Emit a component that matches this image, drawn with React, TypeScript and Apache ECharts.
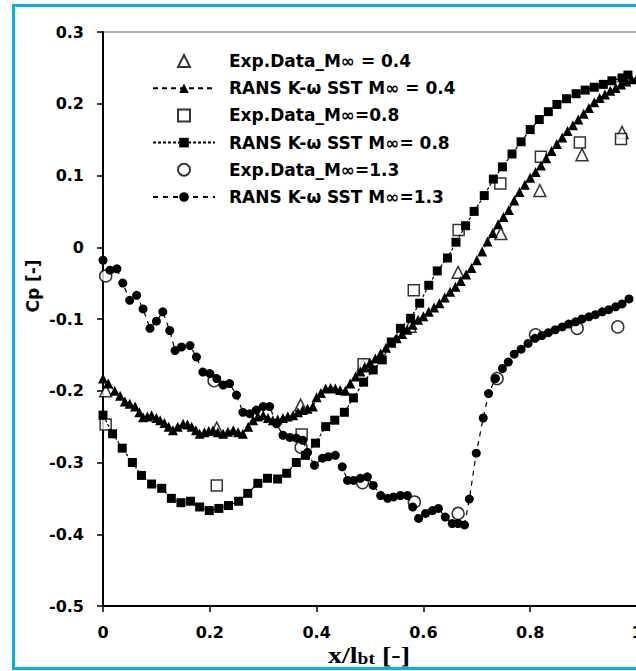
import React, { useEffect, useRef } from "react";
import * as echarts from "echarts";

// ---------- data ----------
const seriesNames = [
  "Exp.Data_M∞ = 0.4",
  "RANS K-ω SST M∞ = 0.4",
  "Exp.Data_M∞=0.8",
  "RANS K-ω SST M∞= 0.8",
  "Exp.Data_M∞=1.3",
  "RANS K-ω SST M∞=1.3",
];

const expM04: number[][] = [
  [0.005, -0.2], [0.213, -0.252], [0.37, -0.22], [0.487, -0.165], [0.575, -0.11],
  [0.665, -0.035], [0.745, 0.019], [0.818, 0.079], [0.897, 0.129], [0.972, 0.16],
];

const expM08: number[][] = [
  [0.005, -0.247], [0.213, -0.332], [0.372, -0.261], [0.488, -0.163], [0.582, -0.06],
  [0.666, 0.024], [0.744, 0.089], [0.82, 0.126], [0.893, 0.146], [0.97, 0.151],
];

const expM13: number[][] = [
  [0.005, -0.04], [0.208, -0.186], [0.371, -0.279], [0.486, -0.328], [0.583, -0.355],
  [0.665, -0.371], [0.738, -0.183], [0.81, -0.122], [0.888, -0.113], [0.964, -0.111],
];

const ransM04: number[][] = [
  [0, -0.183], [0.01, -0.19], [0.022, -0.2], [0.032, -0.207], [0.041, -0.215], [0.05, -0.218],
  [0.06, -0.222], [0.068, -0.23], [0.075, -0.237], [0.083, -0.236], [0.091, -0.234], [0.1, -0.238],
  [0.107, -0.241], [0.115, -0.245], [0.123, -0.25], [0.131, -0.255], [0.14, -0.25], [0.15, -0.246],
  [0.158, -0.247], [0.166, -0.25], [0.174, -0.255], [0.181, -0.26], [0.19, -0.258], [0.198, -0.256],
  [0.206, -0.255], [0.215, -0.258], [0.225, -0.26], [0.234, -0.257], [0.244, -0.255], [0.253, -0.258],
  [0.262, -0.26], [0.272, -0.25], [0.281, -0.241], [0.29, -0.236], [0.3, -0.234], [0.309, -0.238],
  [0.318, -0.241], [0.327, -0.24], [0.337, -0.238], [0.346, -0.236], [0.356, -0.234], [0.365, -0.23],
  [0.374, -0.227], [0.383, -0.225], [0.393, -0.222], [0.4, -0.209], [0.408, -0.203], [0.417, -0.197],
  [0.426, -0.196], [0.435, -0.197], [0.444, -0.199], [0.454, -0.2], [0.463, -0.19], [0.473, -0.18],
  [0.482, -0.173], [0.49, -0.167], [0.5, -0.161], [0.51, -0.155], [0.52, -0.148], [0.53, -0.14],
  [0.54, -0.133], [0.55, -0.127], [0.56, -0.121], [0.57, -0.115], [0.58, -0.108], [0.59, -0.101],
  [0.6, -0.096], [0.61, -0.09], [0.62, -0.084], [0.63, -0.078], [0.64, -0.07], [0.65, -0.062],
  [0.66, -0.055], [0.67, -0.047], [0.68, -0.038], [0.69, -0.029], [0.7, -0.018], [0.71, -0.006],
  [0.72, 0.008], [0.73, 0.02], [0.74, 0.032], [0.75, 0.042], [0.76, 0.052], [0.77, 0.065],
  [0.78, 0.077], [0.79, 0.087], [0.8, 0.097], [0.81, 0.105], [0.82, 0.114], [0.83, 0.124],
  [0.84, 0.134], [0.85, 0.144], [0.86, 0.153], [0.87, 0.162], [0.88, 0.17], [0.89, 0.178],
  [0.9, 0.186], [0.91, 0.194], [0.92, 0.202], [0.93, 0.208], [0.94, 0.213], [0.95, 0.218],
  [0.96, 0.222], [0.97, 0.227], [0.98, 0.231], [0.99, 0.234], [1.0, 0.236],
];

const ransM08: number[][] = [
  [0, -0.234], [0.018, -0.26], [0.036, -0.28], [0.055, -0.3], [0.072, -0.318], [0.091, -0.33],
  [0.11, -0.336], [0.128, -0.35], [0.146, -0.356], [0.164, -0.354], [0.181, -0.362], [0.199, -0.367],
  [0.217, -0.364], [0.235, -0.36], [0.254, -0.354], [0.271, -0.343], [0.29, -0.329], [0.308, -0.322],
  [0.327, -0.323], [0.344, -0.315], [0.362, -0.3], [0.379, -0.29], [0.398, -0.273], [0.417, -0.25],
  [0.434, -0.241], [0.452, -0.23], [0.469, -0.21], [0.488, -0.188], [0.506, -0.171], [0.523, -0.157],
  [0.54, -0.132], [0.557, -0.113], [0.576, -0.099], [0.593, -0.078], [0.61, -0.053], [0.626, -0.033],
  [0.645, -0.015], [0.661, 0.007], [0.679, 0.03], [0.695, 0.05], [0.714, 0.072], [0.731, 0.095],
  [0.748, 0.112], [0.766, 0.13], [0.783, 0.147], [0.8, 0.164], [0.817, 0.178], [0.834, 0.189],
  [0.85, 0.199], [0.868, 0.207], [0.886, 0.214], [0.903, 0.219], [0.92, 0.223], [0.937, 0.227],
  [0.953, 0.232], [0.972, 0.236], [0.983, 0.24],
];

const ransM13: number[][] = [
  [0, -0.018], [0.013, -0.032], [0.026, -0.03], [0.037, -0.05], [0.05, -0.074], [0.063, -0.067],
  [0.075, -0.086], [0.088, -0.113], [0.1, -0.103], [0.112, -0.09], [0.125, -0.116], [0.135, -0.144],
  [0.147, -0.139], [0.163, -0.137], [0.175, -0.153], [0.187, -0.174], [0.2, -0.176], [0.213, -0.183],
  [0.225, -0.192], [0.237, -0.19], [0.25, -0.206], [0.262, -0.23], [0.275, -0.232], [0.287, -0.227],
  [0.3, -0.222], [0.312, -0.222], [0.325, -0.246], [0.337, -0.262], [0.35, -0.265], [0.362, -0.266],
  [0.374, -0.269], [0.383, -0.286], [0.396, -0.304], [0.411, -0.294], [0.422, -0.292], [0.435, -0.29],
  [0.448, -0.306], [0.458, -0.325], [0.469, -0.325], [0.482, -0.322], [0.495, -0.32], [0.506, -0.332],
  [0.52, -0.346], [0.533, -0.35], [0.544, -0.348], [0.557, -0.346], [0.57, -0.346], [0.58, -0.362],
  [0.591, -0.378], [0.604, -0.371], [0.617, -0.367], [0.628, -0.364], [0.641, -0.376], [0.654, -0.385],
  [0.665, -0.385], [0.677, -0.387], [0.686, -0.351], [0.699, -0.287], [0.712, -0.238], [0.722, -0.204],
  [0.735, -0.183], [0.748, -0.169], [0.759, -0.16], [0.77, -0.149], [0.783, -0.142], [0.796, -0.134],
  [0.809, -0.127], [0.822, -0.123], [0.834, -0.119], [0.847, -0.115], [0.86, -0.111], [0.872, -0.107],
  [0.885, -0.104], [0.897, -0.1], [0.91, -0.097], [0.922, -0.094], [0.935, -0.09], [0.947, -0.087],
  [0.96, -0.083], [0.972, -0.079], [0.985, -0.072],
];

const xAxisRange = { min: 0, max: 1, interval: 0.2 };
const yAxisRange = { min: -0.5, max: 0.3, interval: 0.1 };

// ---------- styles ----------
const LABEL_FONT = "DejaVu Sans";

const ICON_TRIANGLE = "path://M5,0L10,10L0,10Z";
const ICON_SQUARE = "path://M0,0L10,0L10,10L0,10Z";
const ICON_CIRCLE = "path://M5,0A5,5,0,1,1,5,10A5,5,0,1,1,5,0Z";

function expSeries(name: string, symbol: string, data: number[][]) {
  return {
    name,
    type: "scatter",
    data,
    symbol,
    symbolSize: symbol === "rect" ? 11 : 12,
    itemStyle: { color: "#ffffff", borderColor: "#000000", borderWidth: 1.5 },
  };
}

function ransSeries(name: string, symbol: string, data: number[][], dash: number[]) {
  return {
    name,
    type: "line",
    data,
    symbol,
    symbolSize: symbol === "triangle" ? 10 : 9,
    showAllSymbol: true,
    itemStyle: { color: "#000000" },
    lineStyle: { color: "#000000", width: 1.2, type: dash },
  };
}

export default function App() {
  const ref = useRef<HTMLDivElement>(null);

  useEffect(() => {
    if (!ref.current) return;
    const chart = echarts.init(ref.current, null, { renderer: "svg" });
    chart.setOption({
      animation: false,
      backgroundColor: "#ffffff",
      grid: {
        left: 103,
        top: 32,
        width: 534,
        height: 574,
        show: true,
        borderColor: "#999999",
        borderWidth: 1.5,
        backgroundColor: "transparent",
      },
      xAxis: {
        type: "value",
        min: xAxisRange.min,
        max: xAxisRange.max,
        interval: xAxisRange.interval,
        axisLine: { show: true, onZero: false, lineStyle: { color: "#000", width: 2 } },
        axisTick: { show: true, inside: false, length: 6, lineStyle: { color: "#000", width: 1.5 } },
        splitLine: { show: false },
        axisLabel: {
          margin: 18,
          color: "#000",
          fontFamily: LABEL_FONT,
          fontWeight: "bold",
          fontSize: 16,
        },
      },
      yAxis: {
        type: "value",
        min: yAxisRange.min,
        max: yAxisRange.max,
        interval: yAxisRange.interval,
        axisLine: { show: true, onZero: false, lineStyle: { color: "#000", width: 2 } },
        axisTick: { show: true, inside: false, length: 6, lineStyle: { color: "#000", width: 1.5 } },
        splitLine: { show: false },
        axisLabel: {
          margin: 19,
          color: "#000",
          fontFamily: LABEL_FONT,
          fontWeight: "bold",
          fontSize: 16,
        },
      },
      legend: {
        orient: "vertical",
        left: 147,
        top: 47.5,
        itemWidth: 62,
        itemHeight: 12,
        itemGap: 10.2,
        data: [
          { name: seriesNames[0], icon: ICON_TRIANGLE },
          { name: seriesNames[1] },
          { name: seriesNames[2], icon: ICON_SQUARE },
          { name: seriesNames[3] },
          { name: seriesNames[4], icon: ICON_CIRCLE },
          { name: seriesNames[5] },
        ],
        textStyle: {
          color: "#000",
          fontFamily: LABEL_FONT,
          fontWeight: "bold",
          fontSize: 17,
          padding: [0, 0, 0, 9],
        },
      },
      graphic: [
        {
          type: "rect",
          silent: true,
          shape: { x: 13.5, y: 5.5, width: 700, height: 663 },
          style: { fill: "none", stroke: "#00B0F0", lineWidth: 3 },
          z: 100,
        },
        {
          type: "text",
          x: 33,
          y: 286,
          rotation: Math.PI / 2,
          style: {
            text: "Cp [-]",
            font: `bold 17px "${LABEL_FONT}"`,
            fill: "#000",
            align: "center",
            verticalAlign: "middle",
          },
        },
        {
          type: "text",
          x: 369,
          y: 655,
          scaleX: 1.22,
          style: {
            text: "{a|x/l}{b|bt}{a| [-]}",
            fill: "#000",
            align: "center",
            verticalAlign: "middle",
            rich: {
              a: { fontFamily: "Liberation Serif", fontWeight: "bold", fontSize: 23, verticalAlign: "bottom", fill: "#000" },
              b: { fontFamily: "Liberation Serif", fontWeight: "bold", fontSize: 16, verticalAlign: "bottom", fill: "#000" },
            },
          },
        },
      ],
      series: [
        expSeries(seriesNames[0], "triangle", expM04),
        ransSeries(seriesNames[1], "triangle", ransM04, [5, 4]),
        expSeries(seriesNames[2], "rect", expM08),
        ransSeries(seriesNames[3], "rect", ransM08, [3, 2]),
        expSeries(seriesNames[4], "circle", expM13),
        ransSeries(seriesNames[5], "circle", ransM13, [5, 5]),
      ],
    });
    return () => chart.dispose();
  }, []);

  return (
    <div
      style={{
        position: "fixed",
        left: 0,
        top: 0,
        width: 636,
        height: 671,
        overflow: "hidden",
        background: "#ffffff",
      }}
    >
      <div ref={ref} style={{ width: 700, height: 671 }} />
    </div>
  );
}
